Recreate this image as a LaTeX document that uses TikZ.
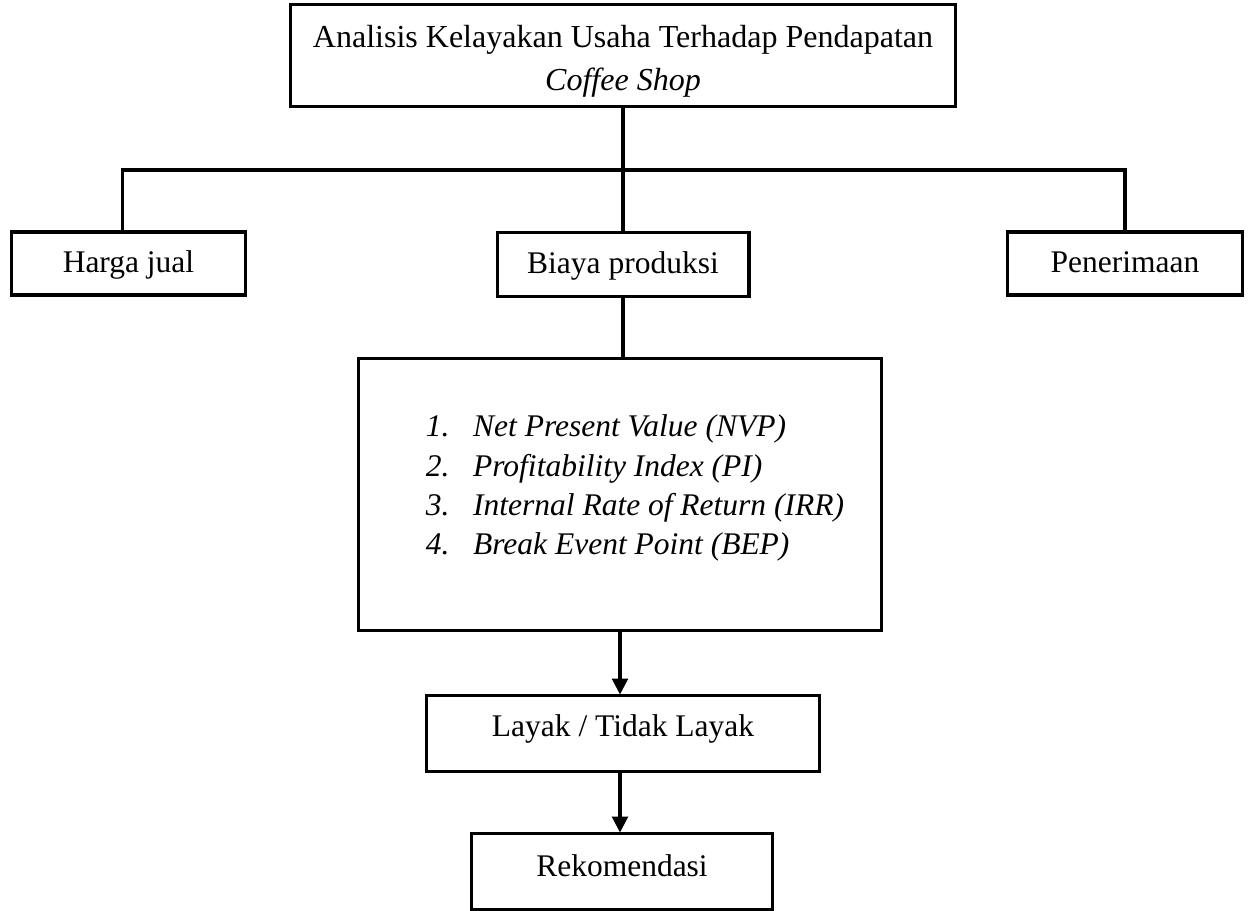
\documentclass[tikz,border=0pt]{standalone}
\usepackage{fontspec}
\setmainfont{Liberation Serif}
\usetikzlibrary{arrows.meta}

\begin{document}
\begin{tikzpicture}[x=0.381pt, y=-0.381pt,
    kotak/.style={draw, line width=1.15pt, inner sep=0pt, align=center,
                  font=\fontsize{12}{14}\selectfont},
    satu/.style={text height=8.4pt, text depth=#1},
    garis/.style={line width=1.15pt},
    panah/.style={line width=1.15pt, -{Triangle[length=6pt,width=6pt]}}]
    \useasboundingbox (0,0) rectangle (1248,911);
    \node[kotak, font=\fontsize{12.2}{14.2}\selectfont, minimum width=253.7pt, minimum height=38.5pt] (judul) at (623,55.5)
      {\raisebox{-2.3pt}[\height][\depth]{\begin{tabular}{@{}c@{}}
        Analisis Kelayakan Usaha Terhadap Pendapatan\\[2pt]\textit{Coffee Shop}\end{tabular}}};
    \node[kotak, satu=1.7pt, minimum width=89.5pt, minimum height=24pt] (harga) at (128.5,263.5) {Harga jual};
    \node[kotak, satu=1.7pt, minimum width=96pt, minimum height=24.5pt] (biaya) at (623,264.5) {Biaya produksi};
    \node[kotak, satu=1.7pt, minimum width=89.2pt, minimum height=24pt] (terima) at (1125,263.5) {Penerimaan};
    \node[kotak, minimum width=199.6pt, minimum height=104pt] (metode) at (620,494.5)
      {\hspace*{11.4pt}\raisebox{2.3pt}[\height][\depth]{\begin{tabular}{@{}p{18pt}@{}l@{}}
        \itshape 1. & \itshape Net Present Value (NVP)\\[1pt]
        \itshape 2. & \itshape Profitability Index (PI)\\[1pt]
        \itshape 3. & \itshape Internal Rate of Return (IRR)\\[1pt]
        \itshape 4. & \itshape Break Event Point (BEP)
      \end{tabular}}};
    \node[kotak, satu=6.2pt, minimum width=149.4pt, minimum height=28.6pt] (layak) at (623,733.5) {Layak / Tidak Layak};
    \node[kotak, satu=4.7pt, minimum width=115pt, minimum height=28.6pt] (rekom) at (622,871.5) {Rekomendasi};
    % cabang ke tiga aspek
    \coordinate (cabang) at (623,170);
    \draw[garis] (judul.south) -- (cabang);
    \draw[garis] (cabang) -| ([xshift=-2.1pt]harga.north);
    \draw[garis] (cabang) -| (terima.north);
    \draw[garis] (cabang) -- (biaya.north);
    \draw[garis] (biaya.south) -- (biaya.south |- metode.north);
    \draw[panah] (metode.south) -- (metode.south |- layak.north);
    \draw[panah] (layak.south -| metode.south) -- (rekom.north -| metode.south);
\end{tikzpicture}
\end{document}
